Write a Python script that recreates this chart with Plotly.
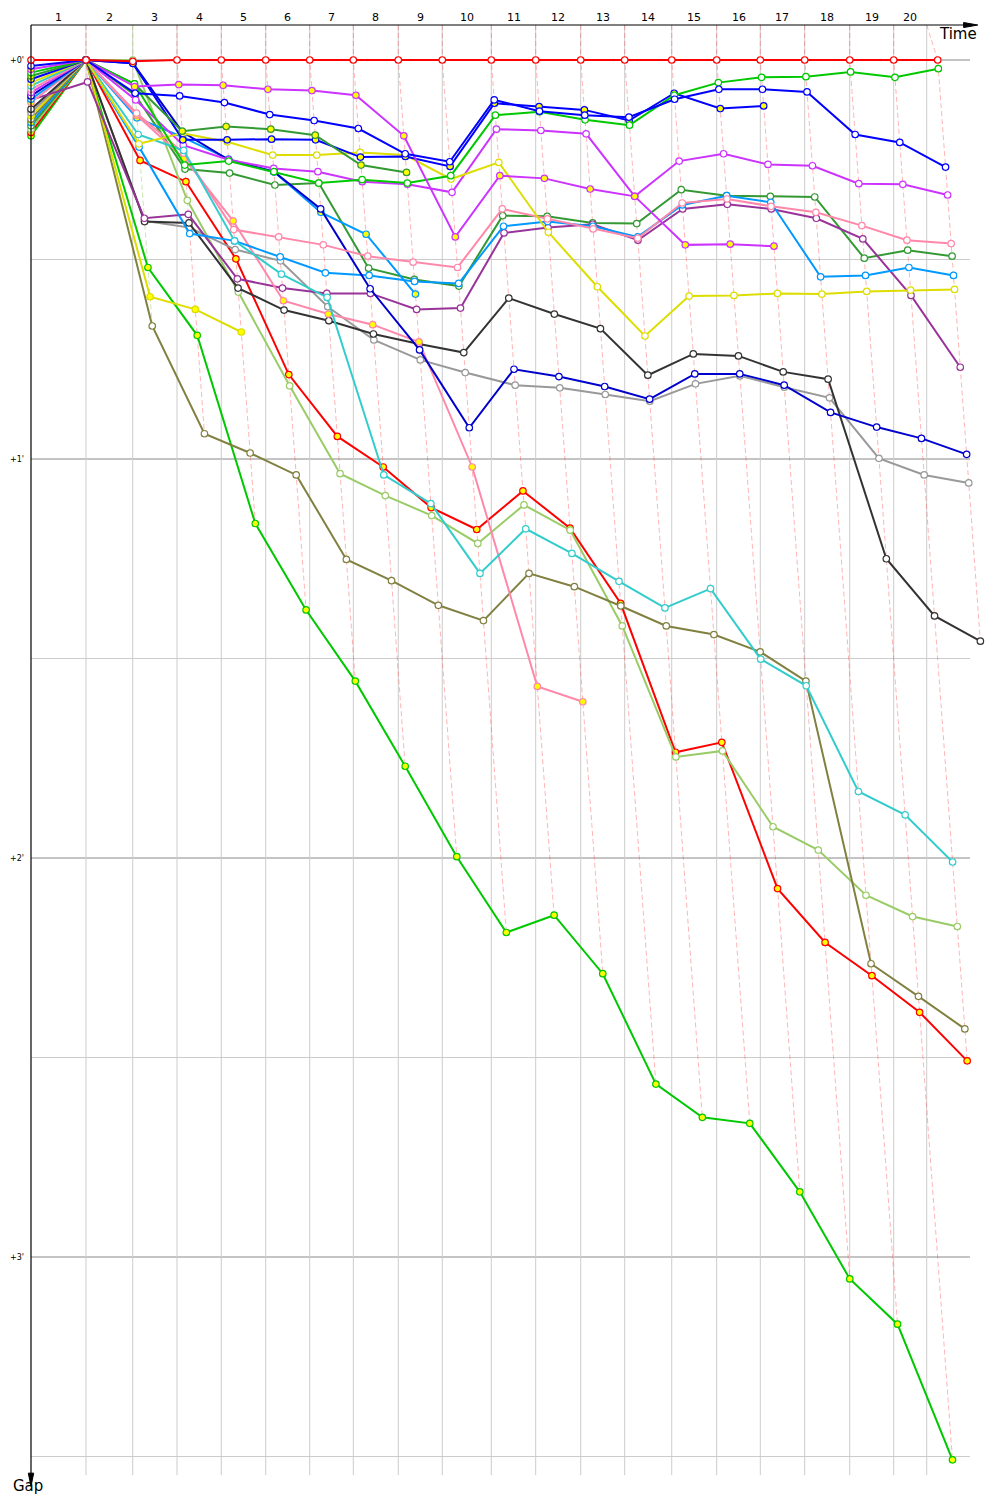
import plotly.graph_objects as go

# ---------------- data ----------------
# reference race time (s) at the end of each lap (gap 0)
lap_ref = [112.6, 208.3, 299.0, 389.7, 480.7, 570.8, 660.1, 752.2, 842.3, 942.7,
           1033.6, 1125.8, 1215.9, 1312.2, 1404.3, 1493.6, 1584.5, 1676.7, 1766.8, 1856.9]
# time grid (s) drawn as vertical lines
grid_times = [0, 112.6, 208.3, 299.0, 389.7, 480.7, 570.8, 660.1, 752.2, 842.3, 942.7,
              1033.6, 1125.8, 1215.9, 1312.2, 1404.3, 1493.6, 1584.5, 1676.7, 1766.8, 1834.4]
lap_labels = [str(i) for i in range(1, 21)]
gap_ticks = [0, 60, 120, 180]
gap_tick_text = ["+0'", "+1'", "+2'", "+3'"]

# gaps (s) to the reference, per lap (lap 1 first); start = grid offset
red_a = [0, 0.2, 0, 0, 0, 0, 0, 0, 0, 0, 0, 0, 0, 0, 0, 0, 0, 0, 0, 0]
red_b = [0, 15.1, 18.3, 29.9, 47.3, 56.6, 61.2, 67.3, 70.6, 64.8, 70.4, 81.7, 104.1, 102.6, 124.6, 132.7, 137.7, 143.2, 150.5]
green_a = [0, 3.6, 15.8, 15.2, 16.8, 18.5, 18.0, 18.5, 17.4, 8.3, 7.8, 9.0, 9.8, 5.3, 3.4, 2.6, 2.5, 1.8, 2.6, 1.3]
green_b = [0, 31.2, 41.4, 69.7, 82.7, 93.4, 106.2, 119.8, 131.2, 128.6, 137.4, 154.0, 159.0, 159.9, 170.2, 183.3, 190.1, 210.5]
blue_a = [0, 5.0, 5.4, 6.4, 8.2, 9.1, 10.3, 14.1, 15.3, 6.0, 7.7, 8.3, 8.6, 5.9, 4.4, 4.4, 4.8, 11.2, 12.4, 16.1]
blue_b = [0, 0.5, 12.0, 12.0, 11.9, 12.0, 14.6, 14.5, 16.0, 6.5, 7.0, 7.5, 9.1, 5.0, 7.3, 6.9]
violet_a = [0, 6.0, 12.8, 15.0, 16.3, 16.8, 18.3, 18.7, 19.9, 10.4, 10.6, 11.1, 20.5, 15.2, 14.1, 15.7, 15.9, 18.6, 18.7, 20.3]
violet_b = [0, 4.0, 3.7, 3.8, 4.4, 4.6, 5.3, 11.4, 26.6, 17.4, 17.8, 19.4, 20.5, 27.8, 27.7, 28.0]
yellow_a = [0, 12.6, 11.0, 12.3, 14.3, 14.3, 13.9, 14.3, 17.9, 15.4, 25.9, 34.1, 41.5, 35.5, 35.4, 35.1, 35.2, 34.8, 34.6, 34.5]
yellow_b = [0, 35.6, 37.5, 40.9]
pink_a = [0, 8.0, 14.0, 25.5, 26.6, 27.8, 29.5, 30.4, 31.2, 22.4, 23.9, 25.4, 26.8, 21.5, 20.9, 22.0, 22.9, 24.9, 27.1, 27.6]
pink_b = [0, 8.3, 14.8, 24.2, 36.2, 38.2, 39.8, 42.4, 61.2, 94.2, 96.5]
dkgreen_a = [0, 5.3, 16.4, 17.0, 18.8, 18.5, 31.3, 33.0, 34.0, 23.4, 23.5, 24.5, 24.6, 19.5, 20.4, 20.5, 20.6, 29.8, 28.6, 29.5]
dkgreen_b = [0, 3.6, 10.7, 10.0, 10.4, 11.3, 15.8, 16.9]
sky_a = [0, 13.1, 26.1, 27.2, 29.6, 32.0, 32.4, 33.3, 33.6, 25.0, 24.3, 25.0, 26.6, 21.8, 20.4, 21.4, 32.6, 32.4, 31.2, 32.4]
sky_b = [0, 8.7, 11.6, 14.9, 16.8, 22.9, 26.2, 35.2]
purple_a = [3.3, 23.8, 23.2, 32.9, 34.3, 35.1, 35.1, 37.5, 37.3, 26.0, 25.2, 24.7, 27.1, 22.4, 21.7, 22.4, 23.8, 26.9, 35.4, 46.2]
black_a = [0, 24.3, 24.5, 34.3, 37.6, 39.2, 41.2, 42.7, 44.0, 35.8, 38.2, 40.4, 47.4, 44.2, 44.5, 46.9, 48.0, 75.0, 83.6, 87.4]
grey_a = [0, 24.2, 25.2, 28.5, 30.2, 37.1, 42.1, 45.1, 47.0, 48.9, 49.3, 50.3, 51.3, 48.7, 47.5, 49.2, 50.8, 59.9, 62.4, 63.6]
navy_a = [0, 0.5, 10.8, 15.0, 16.8, 22.4, 34.4, 43.6, 55.3, 46.5, 47.6, 49.1, 51.0, 47.2, 47.2, 48.9, 53.0, 55.2, 56.9, 59.3]
olive_a = [0, 40.0, 56.2, 59.1, 62.4, 75.1, 78.3, 82.0, 84.3, 77.2, 79.2, 82.1, 85.1, 86.4, 89.0, 93.4, 135.9, 140.8, 145.7]
lime_a = [0, 0, 21.1, 34.9, 49.0, 62.2, 65.5, 68.5, 72.7, 66.9, 70.7, 85.1, 104.8, 103.9, 115.3, 118.8, 125.6, 128.8, 130.3]
teal_a = [0, 11.2, 13.6, 27.2, 32.2, 35.7, 62.4, 66.7, 77.2, 70.5, 74.2, 78.4, 82.4, 79.5, 90.1, 94.1, 110.0, 113.5, 120.6]

# (gaps, colour, marker fill, grid offset at start in s)
drivers = [
    (green_b, "#00c800", "#ffff00", 11.4),
    (red_b, "#ff0000", "#ffff00", 10.9),
    (lime_a, "#99cc66", "#ffffff", 10.4),
    (dkgreen_a, "#339933", "#ffffff", 9.9),
    (sky_b, "#0099ff", "#ffff00", 9.4),
    (olive_a, "#808040", "#ffffff", 8.9),
    (yellow_b, "#dddd00", "#ffff00", 8.4),
    (grey_a, "#999999", "#ffffff", 7.9),
    (black_a, "#333333", "#ffffff", 7.4),
    (purple_a, "#993399", "#ffffff", 6.0),
    (pink_b, "#ff88aa", "#ffff00", 6.4),
    (sky_a, "#0099ff", "#ffffff", 5.9),
    (navy_a, "#0000cc", "#ffffff", 5.4),
    (violet_a, "#cc33ff", "#ffffff", 4.9),
    (pink_a, "#ff88aa", "#ffffff", 4.4),
    (teal_a, "#33cccc", "#ffffff", 3.9),
    (yellow_a, "#dddd00", "#ffffff", 3.4),
    (blue_b, "#0000ff", "#ffff00", 2.9),
    (dkgreen_b, "#339933", "#ffff00", 2.4),
    (green_a, "#00c800", "#ffffff", 1.9),
    (violet_b, "#cc33ff", "#ffff00", 1.4),
    (blue_a, "#0000ff", "#ffffff", 0.9),
    (red_a, "#ff0000", "#ffffff", 0.0),
]

# ---------------- figure ----------------
Y_TOP = -5.26      # top edge of the chart frame (s)
Y_BOT = 212.8      # bottom edge of the chart frame (s)
X_END = 1923.0     # right end of the horizontal grid (s)

fig = go.Figure()

# horizontal grid
for g in range(0, 211, 30):
    fig.add_shape(type="line", xref="x", yref="y", x0=0, x1=X_END, y0=g, y1=g,
                  line=dict(color="#888888" if g % 60 == 0 else "#cccccc", width=1), layer="below")
# vertical grid
for t in grid_times[1:]:
    fig.add_shape(type="line", xref="x", yref="y", x0=t, x1=t, y0=Y_TOP, y1=Y_BOT,
                  line=dict(color="#cccccc", width=1), layer="below")

# lap lines (same lap for every car)
leader_col = {2: "rgba(153,204,102,0.5)"}
for k in range(1, 21):
    pts = []
    for gaps, col, fill, st in drivers:
        if len(gaps) >= k:
            g = gaps[k - 1]
            pts.append((lap_ref[k - 1] + g, g))
    pts.sort(key=lambda p: p[1])
    xs = [grid_times[k]] + [p[0] for p in pts]
    ys = [Y_TOP] + [p[1] for p in pts]
    fig.add_trace(go.Scatter(x=xs, y=ys, mode="lines", hoverinfo="skip",
                             line=dict(color=leader_col.get(k, "rgba(255,60,60,0.38)"), width=1, dash="5px,3px")))

# car lines
for gaps, col, fill, st in drivers:
    xs = [0] + [lap_ref[i] + g for i, g in enumerate(gaps)]
    ys = [st] + list(gaps)
    fig.add_trace(go.Scatter(x=xs, y=ys, mode="lines+markers",
                             line=dict(color=col, width=2),
                             marker=dict(size=6.5, color=fill, line=dict(color=col, width=1.2))))

# axes drawn as lines with arrows
fig.add_shape(type="line", xref="x", yref="y", x0=0, x1=1915, y0=Y_TOP, y1=Y_TOP,
              line=dict(color="black", width=1.2))
fig.add_shape(type="path", xref="x", yref="y",
              path=f"M 1910 {Y_TOP-0.38} L 1939 {Y_TOP} L 1910 {Y_TOP+0.38} Z",
              fillcolor="black", line=dict(color="black", width=1))
fig.add_shape(type="line", xref="x", yref="y", x0=0, x1=0, y0=Y_TOP, y1=Y_BOT + 0.3,
              line=dict(color="black", width=1.2))
fig.add_shape(type="path", xref="x", yref="y",
              path=f"M -5.5 {Y_BOT-0.3} L 0 {Y_BOT+1.7} L 5.5 {Y_BOT-0.3} Z",
              fillcolor="black", line=dict(color="black", width=1))

# lap labels
for i, lab in enumerate(lap_labels):
    fig.add_annotation(x=(grid_times[i] + grid_times[i + 1]) / 2, y=-6.4, text=lab, showarrow=False,
                       xanchor="center", yanchor="middle",
                       font=dict(family="DejaVu Sans", size=11, color="black"))
# gap labels
for g, lab in zip(gap_ticks, gap_tick_text):
    fig.add_annotation(x=-10, y=g, text=lab, showarrow=False, xanchor="right", yanchor="middle",
                       font=dict(family="DejaVu Sans", size=8, color="black"))
fig.add_annotation(x=1942, y=-3.9, text="Time", showarrow=False, xanchor="right", yanchor="middle",
                   font=dict(family="DejaVu Sans", size=15, color="black"))
fig.add_annotation(x=-41, y=214.5, text="Gap", showarrow=False, xanchor="left", yanchor="middle",
                   font=dict(family="DejaVu Sans", size=15, color="black"))

# the page has an 8px body margin: size the figure so it ends at the window edge
fig.update_layout(
    width=992, height=1492, margin=dict(l=0, r=0, t=0, b=0),
    paper_bgcolor="white", plot_bgcolor="white", showlegend=False,
    xaxis=dict(range=[-47.1, 1984.5], visible=False, fixedrange=True),
    yaxis=dict(range=[216.54, -7.82], visible=False, fixedrange=True),
)
fig.write_html("out.html")
